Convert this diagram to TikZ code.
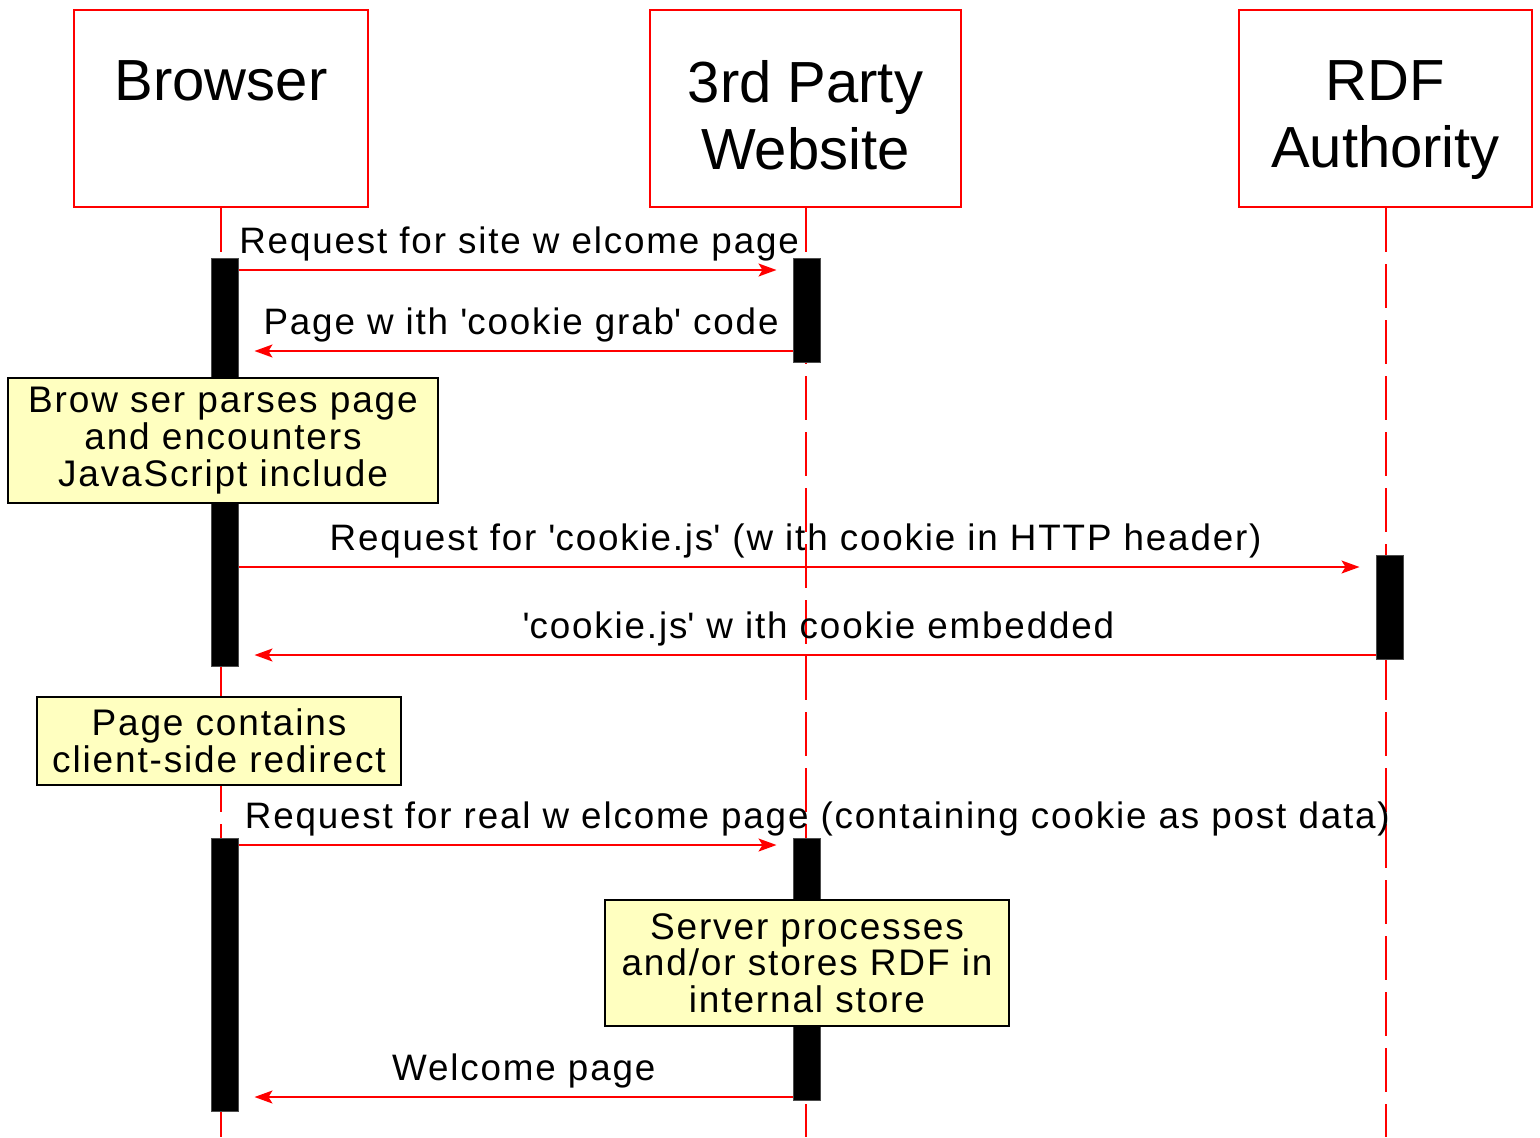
\documentclass[tikz,border=0pt]{standalone}
\usepackage{fontspec}
\setmainfont{Liberation Sans}
\newfontfamily\spaced[LetterSpace=5]{Liberation Sans}
\usetikzlibrary{arrows.meta}
\usetikzlibrary{positioning}
\definecolor{notefill}{RGB}{255,255,192}
\newcommand{\sq}{\textquotesingle}
\tikzstyle{actor}=[draw=red,line width=1pt,fill=white,minimum height=98.5pt,inner sep=0pt]
\tikzstyle{title}=[font=\fontsize{29}{33.5}\selectfont,align=center,inner sep=0pt]
\tikzstyle{lifeline}=[draw=red,line width=1pt,dash pattern=on 22pt off 6pt]
\tikzstyle{activation}=[draw=black!70,line width=0.5pt,fill=black,minimum width=13.5pt,inner sep=0pt]
\tikzstyle{note}=[draw=black,line width=0.8pt,fill=notefill,align=center,inner sep=0pt,font=\spaced\fontsize{18.5}{18.3}\selectfont]
\tikzstyle{msg}=[draw=red,line width=0.8pt,shorten >=8pt,-{Stealth[length=9pt,width=6.5pt,inset=2pt]}]
\tikzstyle{msglabel}=[font=\spaced\fontsize{18.4}{22}\selectfont,inner sep=0pt,yshift=8.5pt]

\begin{document}
\begin{tikzpicture}[x=0.5pt,y=-0.5pt]
    \useasboundingbox (0,0) rectangle (1540,1137);

    % actors
    \foreach \pos/\name/\bw/\txt in {{(221,108.5)/browser/147/{Browser}}, {(805.5,108.5)/website/155.5/{3rd Party\\Website}}, {(1385.5,108.5)/rdf/146.5/{RDF\\Authority}}}
        \node[actor,minimum width=\bw pt,label={[title,anchor=north,yshift=-25.5pt]north:\txt}] (\name) at \pos {};

    % lifelines
    \coordinate (bottom) at (0,1137);
    \foreach \name in {browser,website,rdf}
        \path[lifeline] (\name.south) -- (\name.south |- bottom);

    % activation bars
    \foreach \pos/\name/\bh in {{(224.5,462)/brA1/204}, {(224.5,974.5)/brA2/136.5}, {(806.5,310)/wsA1/52}, {(806.5,969)/wsA2/131}, {(1389.5,607)/rdA1/52}}
        \node[activation,minimum height=\bh pt] (\name) at \pos {};

    % messages
    \foreach \src/\dst/\y/\p/\an/\txt in {brA1.east/wsA1.west/270/0/base west/{Request for site w elcome page}, wsA1.west/brA1.east/351/0.49/base/{Page w ith \sq cookie grab\sq{} code}, brA1.east/rdA1.west/567/0.49/base/{Request for \sq cookie.js\sq{} (w ith cookie in HTTP header)}, rdA1.west/brA1.east/655/0.49/base/{\sq cookie.js\sq{} w ith cookie embedded}, brA2.east/wsA2.west/845/0.01/base west/{Request for real w elcome page (containing cookie as post data)}, wsA2.west/brA2.east/1097/0.485/base/{Welcome page}}
        \path[msg] (\src |- 0,\y) -- node[msglabel,pos=\p,anchor=\an] {\txt} (\dst |- 0,\y);

    % notes
    \foreach \pos/\name/\bw/\bh/\txt in {{(223,440.5)/parse/215/62.5/{Brow ser parses page\\and encounters\\JavaScript include}}, {(219,741)/redirect/182/44/{Page contains\\client-side redirect}}, {(807,963)/store/202/63/{Server processes\\and/or stores RDF in\\internal store}}}
        \node[note,minimum width=\bw pt,minimum height=\bh pt] (\name) at \pos {\txt};

\end{tikzpicture}
\end{document}
